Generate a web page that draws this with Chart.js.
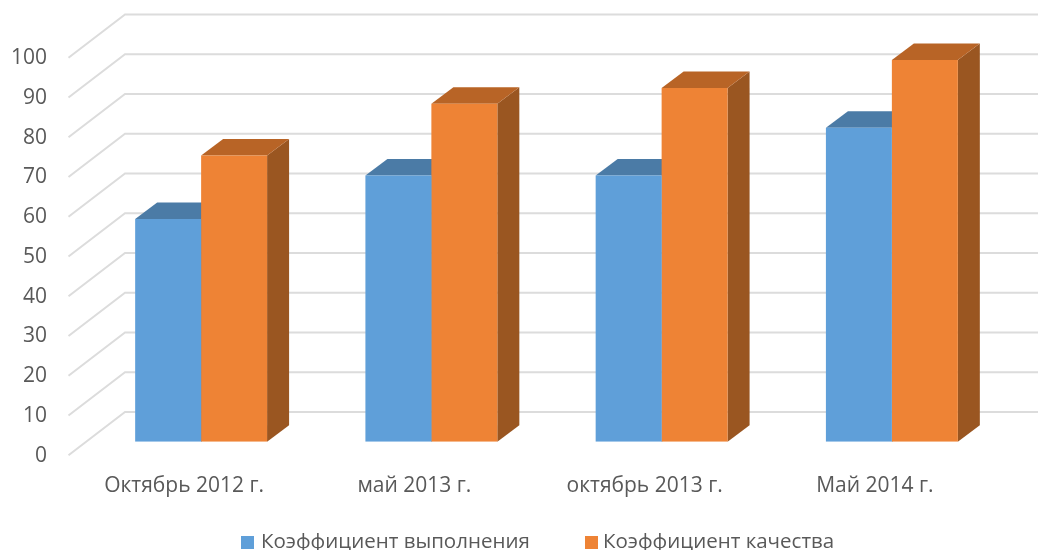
<!DOCTYPE html>
<html>
<head>
<meta charset="utf-8">
<style>
    html, body { margin: 0; padding: 0; background: #fff; overflow: hidden; }
    canvas { display: block; }
</style>
<script src="https://cdn.jsdelivr.net/npm/chart.js@4"></script>
</head>
<body>
<canvas id="kpiChart" width="1038" height="550"></canvas>
<script>
const categories = ['Октябрь 2012 г.', 'май 2013 г.', 'октябрь 2013 г.', 'Май 2014 г.'];
const executionValues = [56, 67, 67, 79];
const qualityValues = [72, 85, 89, 96];
const seriesNames = ['Коэффициент выполнения', 'Коэффициент качества'];

const textColor = '#595959';
const gridColor = '#dcdcdc';
const fontFamily = '"Open Sans", sans-serif';
const barColors = ['#5f9fd9', '#ee8335'];

// top and side faces of the 3d columns
const faceColors = [
    { top: '#4b7ba6', side: '#3f678c' },
    { top: '#b86426', side: '#9a5621' }
];

const depthPlugin = {
    id: 'depth3d',
    beforeDatasetsDraw(chart) {
        const { ctx, chartArea, scales: { y } } = chart;

        // grid lines: front-left end, back-left corner, then along the back wall
        ctx.save();
        ctx.strokeStyle = gridColor;
        ctx.lineWidth = 2;
        y.ticks.forEach(tick => {
            const py = y.getPixelForValue(tick.value);
            ctx.beginPath();
            ctx.moveTo(chartArea.left - 17.5, py + 13.5);
            ctx.lineTo(chartArea.left + 39, py - 29.7);
            ctx.lineTo(chart.width, py - 29.7);
            ctx.stroke();
        });

        const dx = 22;
        const dy = -16.5;
        chart.data.datasets.forEach((dataset, i) => {
            chart.getDatasetMeta(i).data.forEach(bar => {
                const left = bar.x - bar.width / 2;
                const right = bar.x + bar.width / 2;

                ctx.fillStyle = faceColors[i].side;
                ctx.beginPath();
                ctx.moveTo(right, bar.y);
                ctx.lineTo(right + dx, bar.y + dy);
                ctx.lineTo(right + dx, bar.base + dy);
                ctx.lineTo(right, bar.base);
                ctx.closePath();
                ctx.fill();

                ctx.fillStyle = faceColors[i].top;
                ctx.beginPath();
                ctx.moveTo(left, bar.y);
                ctx.lineTo(left + dx, bar.y + dy);
                ctx.lineTo(right + dx, bar.y + dy);
                ctx.lineTo(right, bar.y);
                ctx.closePath();
                ctx.fill();
            });
        });
        ctx.restore();
    }
};

// built in legend ties its gap to its height, so it is drawn here
const legendPlugin = {
    id: 'bottomLegend',
    afterDraw(chart) {
        const { ctx } = chart;
        const boxX = [241, 585];
        const textX = [261, 603];
        ctx.save();
        ctx.font = '20.5px ' + fontFamily;
        ctx.textBaseline = 'middle';
        seriesNames.forEach((name, i) => {
            ctx.fillStyle = barColors[i];
            ctx.fillRect(boxX[i], 536, 13, 13);
            ctx.fillStyle = textColor;
            ctx.fillText(name, textX[i], 542);
        });
        ctx.restore();
    }
};

new Chart(document.getElementById('kpiChart').getContext('2d'), {
    type: 'bar',
    data: {
        labels: categories,
        datasets: [
            { label: seriesNames[0], data: executionValues, backgroundColor: barColors[0] },
            { label: seriesNames[1], data: qualityValues, backgroundColor: barColors[1] }
        ]
    },
    options: {
        responsive: false,
        animation: false,
        datasets: { bar: { categoryPercentage: 0.573, barPercentage: 1 } },
        layout: { padding: { top: 44.2, right: 31 } },
        plugins: {
            tooltip: { enabled: false },
            legend: { display: false }
        },
        scales: {
            x: {
                grid: { display: false },
                border: { display: false },
                afterFit: scale => { scale.height = 108.3; },
                ticks: {
                    color: textColor,
                    maxRotation: 0,
                    padding: 24,
                    labelOffset: -17,
                    font: { family: fontFamily, size: 21 }
                }
            },
            y: {
                min: 0,
                max: 100,
                grid: { display: false, drawTicks: false },
                border: { display: false },
                afterFit: scale => {
                    scale.width = 86;
                    scale.paddingTop = 0;
                    scale.paddingBottom = 0;
                },
                ticks: {
                    stepSize: 10,
                    color: textColor,
                    padding: 39,
                    labelOffset: 14,
                    font: { family: fontFamily, size: 21 }
                }
            }
        }
    },
    plugins: [depthPlugin, legendPlugin]
});
</script>
</body>
</html>
